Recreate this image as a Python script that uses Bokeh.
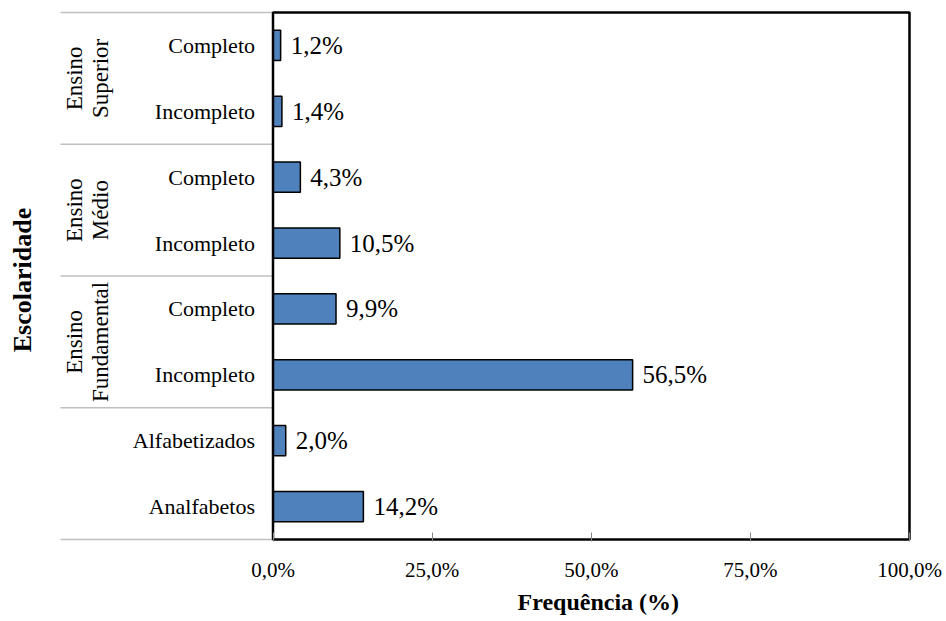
import math
from bokeh.plotting import figure
from bokeh.models import FixedTicker, ColumnDataSource, Title
from bokeh.core.properties import value
from bokeh.embed import file_html
from bokeh.resources import INLINE

# ---- data (bottom to top) ----
categories = ["Analfabetos", "Alfabetizados", "Incompleto", "Completo",
              "Incompleto", "Completo", "Incompleto", "Completo"]
values = [14.2, 2.0, 56.5, 9.9, 10.5, 4.3, 1.4, 1.2]
value_labels = ["14,2%", "2,0%", "56,5%", "9,9%", "10,5%", "4,3%", "1,4%", "1,2%"]
group_line1 = ["Ensino", "Ensino", "Ensino"]
group_line2 = ["Fundamental", "Médio", "Superior"]
group_center = [2.5, 4.5, 6.5]
group_bounds = [-0.5, 1.5, 3.5, 5.5, 7.5]
x_ticks = [0, 25, 50, 75, 100]
x_tick_labels = ["0,0%", "25,0%", "50,0%", "75,0%", "100,0%"]

FONT = "Liberation Serif"

# ---- layout (pixels) ----
W, H = 946, 621
BB = 80                      # bottom panel (tick labels + title)
FH = H - BB                  # frame height
PX0, PX100 = 272.5, 909.0    # x of 0% and 100%
PY_TOP, PY_BOT = 12.0, 539.0  # y of top / bottom border of the box
PPU = (PX100 - PX0) / 100.0
NROW = len(categories)
RH = (PY_BOT - PY_TOP) / NROW

x_start = -PX0 / PPU
x_end = 100 + (W - PX100) / PPU
y_end = (NROW - 0.5) + PY_TOP / RH
y_start = -0.5 - (FH - PY_BOT) / RH


def dx(px):
    return (px - PX0) / PPU


p = figure(width=W, height=H, x_range=(x_start, x_end), y_range=(y_start, y_end),
           output_backend="svg", toolbar_location=None, y_axis_location=None,
           min_border_left=0, min_border_right=0, min_border_top=0,
           min_border_bottom=BB)
p.background_fill_color = "white"
p.border_fill_color = "white"
p.outline_line_color = None
p.xgrid.visible = False
p.ygrid.visible = False

rows = list(range(NROW))
src = ColumnDataSource(dict(y=rows, v=values, lab=value_labels, cat=categories,
                            x0=[0] * NROW))

# group separator lines (left of the box)
p.segment(x0=[dx(60)] * len(group_bounds), x1=[0] * len(group_bounds),
          y0=group_bounds, y1=group_bounds, line_color="#BFBFBF", line_width=1.5)

# bars
p.hbar(y="y", right="v", left=0, height=0.46, source=src,
       fill_color="#4F81BD", line_color="black", line_width=1.5)

# plot box
p.quad(left=[0], right=[100], bottom=[-0.5], top=[NROW - 0.5],
       fill_color=None, line_color="black", line_width=2.5)

# value labels
p.text(x="v", y="y", text="lab", source=src, x_offset=10,
       text_align="left", text_baseline="middle",
       text_font=value(FONT), text_font_size="25px", text_color="black")

# category labels
p.text(x="x0", y="y", text="cat", source=src, x_offset=-18,
       text_align="right", text_baseline="middle",
       text_font=value(FONT), text_font_size="22px", text_color="black")

# group labels (two rotated lines)
gsrc = ColumnDataSource(dict(x=[0] * 3, y=group_center, t1=group_line1, t2=group_line2))
p.text(x="x", y="y", text="t1", source=gsrc, x_offset=74 - PX0, angle=math.pi / 2,
       text_align="center", text_baseline="middle",
       text_font=value(FONT), text_font_size="23px", text_color="black")
p.text(x="x", y="y", text="t2", source=gsrc, x_offset=100 - PX0, angle=math.pi / 2,
       text_align="center", text_baseline="middle",
       text_font=value(FONT), text_font_size="23px", text_color="black")

# y title
p.text(x=[0], y=[(NROW - 1) / 2], text=["Escolaridade"], x_offset=22 - PX0, y_offset=4,
       angle=math.pi / 2, text_align="center", text_baseline="middle",
       text_font=value(FONT), text_font_size="26px", text_font_style="bold",
       text_color="black")

# x axis
p.xaxis.ticker = FixedTicker(ticks=x_ticks)
p.xaxis.major_label_overrides = {t: l for t, l in zip(x_ticks, x_tick_labels)}
p.xaxis.major_label_text_font = FONT
p.xaxis.major_label_text_font_size = "21px"
p.xaxis.major_label_text_color = "black"
p.xaxis.major_label_standoff = 16
p.xaxis.major_tick_in = 9
p.xaxis.major_tick_out = 0
p.xaxis.major_tick_line_color = "#868686"
p.xaxis.minor_tick_line_color = None
p.xaxis.axis_line_color = None

# x title
p.add_layout(Title(text="Frequência (%)", align="left", offset=517,
                   text_font=FONT, text_font_size="24px", text_font_style="bold",
                   text_color="black", standoff=4), "below")

open("out.html", "w").write(file_html(p, INLINE))
